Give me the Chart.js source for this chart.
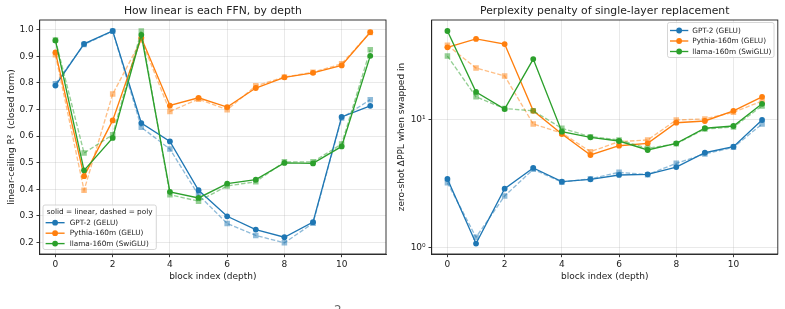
<!DOCTYPE html>
<html><head><meta charset="utf-8">
<script src="https://cdn.jsdelivr.net/npm/chart.js@4.4.1/dist/chart.umd.min.js"></script>
<style>
html,body{margin:0;padding:0;background:#fff;width:785px;height:309px;overflow:hidden;}
#c1{position:absolute;left:0;top:0;}
#c2{position:absolute;left:392px;top:0;}
#frag{position:absolute;left:334px;top:303px;font:12px "DejaVu Sans";color:#666;}
</style></head><body>
<canvas id="c1" width="392" height="309"></canvas>
<canvas id="c2" width="393" height="309"></canvas>
<div id="frag">2</div>
<script>
// ---------- data ----------
const blocks = [0,1,2,3,4,5,6,7,8,9,10,11];
const xTickValues = [0,2,4,6,8,10];
const r2TickValues = [0.2,0.3,0.4,0.5,0.6,0.7,0.8,0.9,1.0];
const pplTickValues = [1,10];
const modelNames = ['GPT-2 (GELU)','Pythia-160m (GELU)','llama-160m (SwiGLU)'];
const modelColors = ['#1f77b4','#ff7f0e','#2ca02c'];

// linear-ceiling R² (closed form)
const r2LinGpt2   = [0.790,0.947,0.996,0.649,0.580,0.396,0.298,0.248,0.219,0.276,0.672,0.714];
const r2PolyGpt2  = [0.797,0.945,0.995,0.633,0.551,0.378,0.271,0.226,0.198,0.272,0.668,0.737];
const r2LinPythia = [0.915,0.449,0.659,0.970,0.715,0.744,0.709,0.781,0.821,0.838,0.866,0.991];
const r2PolyPythia= [0.906,0.396,0.758,0.962,0.693,0.739,0.699,0.789,0.822,0.840,0.872,0.990];
const r2LinLlama  = [0.960,0.471,0.593,0.981,0.390,0.367,0.421,0.436,0.499,0.497,0.561,0.902];
const r2PolyLlama = [0.962,0.536,0.605,0.996,0.379,0.355,0.412,0.428,0.503,0.503,0.570,0.925];

// zero-shot ΔPPL when swapped in
const pplLinGpt2   = [3.44,1.07,2.89,4.20,3.28,3.42,3.70,3.74,4.27,5.53,6.17,10.0];
const pplPolyGpt2  = [3.22,1.20,2.53,4.10,3.25,3.45,3.88,3.72,4.57,5.40,6.10,9.30];
const pplLinPythia = [37.2,43.3,39.5,11.8,7.76,5.31,6.28,6.56,9.52,9.82,11.8,15.2];
const pplPolyPythia= [38.6,25.6,22.2,9.30,7.90,5.64,6.76,6.97,10.0,10.2,11.5,14.1];
const pplLinLlama  = [50.0,16.6,12.2,30.1,8.09,7.31,6.84,5.81,6.56,8.61,8.97,13.4];
const pplPolyLlama = [31.8,15.2,12.3,11.8,8.60,7.40,6.97,6.00,6.50,8.50,8.80,12.9];

// ---------- styling ----------
const F = '"DejaVu Sans", sans-serif';
const TXT = '#222';
const GRID = 'rgba(176,176,176,0.35)';

function rgba(hex,a){
  const n=parseInt(hex.slice(1),16);
  return `rgba(${n>>16&255},${n>>8&255},${n&255},${a})`;
}
function series(label,vals,color,poly,order){
  const c = poly ? rgba(color,0.5) : color;
  return {
    label: poly ? '' : label,
    data: blocks.map((b,i)=>({x:b,y:vals[i]})),
    borderColor:c, backgroundColor:c,
    borderWidth:1.35, borderDash: poly?[4.5,2]:[],
    pointStyle: poly?'rect':'circle',
    pointRadius: poly?3.9:2.9, pointBorderWidth:0,
    pointHoverRadius: poly?3.9:2.9,
    tension:0, fill:false, order
  };
}
function buildDatasets(sets){
  const out=[]; let ord=sets.length*2;
  sets.forEach((s,k)=>{
    out.push(series(modelNames[k],s[0],modelColors[k],false,ord--));
    out.push(series(modelNames[k],s[1],modelColors[k],true,ord--));
  });
  return out;
}

const frame = {
  id:'frame',
  afterDatasetsDraw(chart,args,opts){
    const a=chart.chartArea, ctx=chart.ctx;
    ctx.save(); ctx.strokeStyle='#222'; ctx.lineWidth=0.9;
    ctx.strokeRect(a.left,a.top,a.right-a.left,a.bottom-a.top);
    ctx.restore();
  },
  afterDraw(chart,args,opts){
    const a=chart.chartArea, ctx=chart.ctx;
    ctx.save();
    ctx.fillStyle=TXT; ctx.font=`10.8px ${F}`; ctx.textAlign='center'; ctx.textBaseline='middle';
    ctx.fillText(opts.title,(a.left+a.right)/2,11);
    // legend
    const L=opts.legend;
    ctx.fillStyle='rgba(255,255,255,0.8)'; ctx.strokeStyle='#cccccc'; ctx.lineWidth=0.8;
    ctx.beginPath(); ctx.roundRect(L.x,L.y,L.w,L.h,2); ctx.fill(); ctx.stroke();
    ctx.font=`7.3px ${F}`; ctx.fillStyle=TXT; ctx.textBaseline='middle';
    if(L.title){ ctx.textAlign='center'; ctx.fillText(L.title,L.x+L.w/2,L.titleY); }
    ctx.textAlign='left';
    modelNames.forEach((n,i)=>{
      const y=L.rows[i];
      ctx.strokeStyle=modelColors[i]; ctx.lineWidth=1.35;
      ctx.beginPath(); ctx.moveTo(L.lx0,y); ctx.lineTo(L.lx1,y); ctx.stroke();
      ctx.fillStyle=modelColors[i];
      ctx.beginPath(); ctx.arc((L.lx0+L.lx1)/2,y,2.9,0,Math.PI*2); ctx.fill();
      ctx.fillStyle=TXT; ctx.fillText(n,L.tx,y+0.3);
    });
    ctx.restore();
  }
};

function xScale(){
  return {
    type:'linear', min:-0.55, max:11.55,
    afterBuildTicks:s=>{s.ticks=xTickValues.map(v=>({value:v}));},
    afterFit:s=>{s.height=55;},
    grid:{color:GRID,lineWidth:0.8,tickLength:3.2,tickColor:'#222',tickWidth:0.9},
    border:{display:true,color:'#222',width:0.9},
    ticks:{font:{family:F,size:9},color:TXT,padding:2.3,maxRotation:0,autoSkip:false,callback:v=>String(v)},
    title:{display:true,text:'block index (depth)',font:{family:F,size:9},color:TXT,padding:{top:0,bottom:26.9}}
  };
}

function makeChart(id,datasets,yScale,padRight,title,legend){
  return new Chart(document.getElementById(id),{
    type:'line',
    data:{datasets},
    options:{
      responsive:false, animation:false, events:[],
      layout:{padding:{left:0,right:padRight,top:20,bottom:0}},
      scales:{x:xScale(), y:yScale},
      plugins:{legend:{display:false},tooltip:{enabled:false},title:{display:false},
        frame:{title,legend}}
    },
    plugins:[frame]
  });
}

// ---------- left chart ----------
makeChart('c1',
  buildDatasets([[r2LinGpt2,r2PolyGpt2],[r2LinPythia,r2PolyPythia],[r2LinLlama,r2PolyLlama]]),
  {
    type:'linear', min:0.156, max:1.037,
    afterBuildTicks:s=>{s.ticks=r2TickValues.map(v=>({value:v}));},
    afterFit:s=>{s.width=39.7;},
    grid:{color:GRID,lineWidth:0.8,tickLength:3.2,tickColor:'#222',tickWidth:0.9},
    border:{display:true,color:'#222',width:0.9},
    ticks:{font:{family:F,size:9},color:TXT,padding:2.8,callback:v=>v.toFixed(1)},
    title:{display:true,text:'linear-ceiling R²  (closed form)',font:{family:F,size:9},color:TXT,padding:{top:6.3,bottom:0}}
  },
  6,
  'How linear is each FFN, by depth',
  {x:43,y:205,w:113.3,h:44.5,title:'solid = linear, dashed = poly',titleY:212.3,
   rows:[222.7,233.2,243.6],lx0:45.6,lx1:64.6,tx:69.7}
);

// ---------- right chart ----------
makeChart('c2',
  buildDatasets([[pplLinGpt2,pplPolyGpt2],[pplLinPythia,pplPolyPythia],[pplLinLlama,pplPolyLlama]]),
  {
    type:'logarithmic', min:0.886, max:61,
    afterBuildTicks:s=>{s.ticks=pplTickValues.map(v=>({value:v}));},
    afterFit:s=>{s.width=39.7;},
    grid:{color:GRID,lineWidth:0.8,tickLength:3.2,tickColor:'#222',tickWidth:0.9},
    border:{display:true,color:'#222',width:0.9},
    ticks:{font:{family:F,size:9},color:TXT,padding:2.8,autoSkip:false,
      callback:v=>v===1?'10⁰':(v===10?'10¹':'')},
    title:{display:true,text:'zero-shot ΔPPL when swapped in',font:{family:F,size:9},color:TXT,padding:{top:4.3,bottom:0}}
  },
  7.2,
  'Perplexity penalty of single-layer replacement',
  {x:275.5,y:22.5,w:106.5,h:35,title:null,titleY:0,
   rows:[30.5,41,51.5],lx0:278,lx1:296.3,tx:300.3}
);
</script>
</body></html>
